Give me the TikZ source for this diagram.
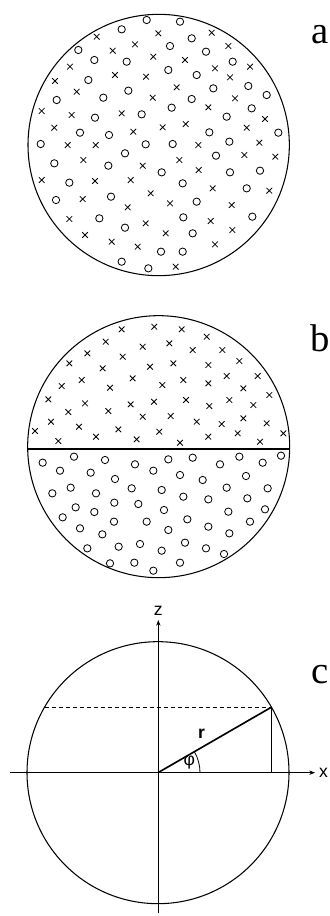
\documentclass[tikz,border=0pt]{standalone}
\usepackage{fontspec}
\setmainfont{Liberation Serif}
\newfontfamily\axfont{Liberation Sans}
\usetikzlibrary{arrows.meta,calc}

\begin{document}
\begin{tikzpicture}[x=0.1mm, y=-0.1mm,
  rim/.style={line width=0.9pt},
  ring/.style={line width=0.7pt},
  panel/.style={font=\fontsize{33}{33}\selectfont, anchor=base, inner sep=0pt},
  axlab/.style={font=\axfont\fontsize{15}{15}\selectfont, inner sep=0pt},
  axis/.style={line width=0.8pt, -{Stealth[length=1.7mm, width=1.3mm]}},
  cross/.pic={\draw[ring] (-8.5,-8.5) -- (8.5,8.5) (-8.5,8.5) -- (8.5,-8.5);}]
  \useasboundingbox (0,0) rectangle (990,2748);

  % panel a: mixed
  \draw[rim] (476,435) circle (39.2mm);
  \foreach \x/\y in {440/60, 540/65, 365/88, 575/115, 235/150, 510/138, 618/155,
      283/180, 380/185, 698/185, 265/240, 505/210, 590/225, 385/272, 640/265,
      745/258, 170/300, 310/293, 575/297, 800/285, 515/323, 755/325, 285/353,
      425/343, 680/350, 240/398, 327/405, 628/397, 835/398, 122/432, 375/460,
      437/433, 518/432, 688/425, 163/490, 325/497, 648/467, 485/517, 690/517,
      780/512, 208/548, 548/550, 740/565, 168/600, 333/590, 590/605, 298/655,
      375/683, 550/652, 757/650, 578/700, 483/755, 548/755, 365/785, 445/805}
    \draw[ring] (\x,\y) circle (1.1mm);
  \foreach \x/\y in {475/100, 635/98, 290/110, 338/152, 405/133, 685/138,
      210/200, 460/170, 555/180, 645/205, 750/200, 165/243, 345/225, 438/230,
      690/232, 230/275, 530/262, 458/293, 705/295, 125/333, 215/345, 625/322,
      365/340, 795/357, 163/383, 400/395, 488/382, 557/372, 740/383, 203/435,
      287/435, 595/435, 778/428, 250/480, 428/497, 538/480, 733/465, 826/470,
      125/540, 596/510, 285/543, 392/540, 638/565, 808/572, 248/597, 452/580,
      383/622, 510/610, 695/615, 208/657, 437/670, 632/663, 255/705, 497/700,
      697/690, 335/725, 413/740, 645/733, 527/800}
    \pic at (\x,\y) {cross};
  \node[panel] (la) at (960,130) {a};

  % panel b: separated
  \begin{scope}[shift={(0,900)}]
    \draw[rim] (476,440) circle (39.3mm);
    \coordinate (bl) at (83,447);
    \coordinate (br) at (869,447);
    \draw[rim] (bl) -- (br);
    \foreach \x/\y in {365/88, 463/80, 545/88, 620/110, 317/125, 428/140,
        508/130, 578/150, 667/150, 208/190, 262/160, 368/170, 450/200, 520/190,
        625/195, 718/183, 308/205, 245/240, 185/258, 398/235, 487/255, 550/240,
        625/250, 680/228, 773/228, 330/263, 730/265, 145/298, 255/310, 392/313,
        462/305, 558/300, 628/318, 688/300, 760/315, 808/285, 205/336, 325/333,
        428/350, 512/348, 590/365, 665/372, 730/355, 800/370, 153/365, 237/380,
        355/388, 478/395, 410/418, 288/410, 175/423, 105/393, 540/428, 625/410,
        713/400, 780/425, 850/400}
      \pic at (\x,\y) {cross};
    \foreach \x/\y in {128/488, 222/470, 315/480, 405/493, 505/478, 578/473,
        660/493, 718/470, 788/488, 843/467, 180/512, 272/518, 460/512, 540/525,
        608/540, 738/528, 345/537, 212/563, 157/580, 288/580, 395/565, 485/570,
        550/590, 625/598, 680/563, 742/595, 803/565, 227/622, 188/652, 283/636,
        343/608, 415/612, 492/630, 562/658, 685/635, 795/628, 240/685, 342/665,
        440/665, 505/690, 625/680, 688/700, 750/665, 307/703, 262/745, 356/740,
        420/732, 485/752, 555/728, 618/745, 672/762, 330/790, 403/788, 460/812,
        540/788}
      \draw[ring] (\x,\y) circle (1.1mm);
    \node[panel] (lb) at (960,155) {b};
  \end{scope}

  % panel c: coordinates
  \begin{scope}[shift={(0,1800)}]
    \coordinate (o) at (474,518);
    \draw[rim] (o) circle (39.3mm);
    \coordinate (xa) at (30,518);
    \coordinate (xb) at (945,518);
    \coordinate (za) at (475,940);
    \coordinate (zb) at (475,60);
    \draw[axis] (xa) -- (xb);
    \draw[axis] (za) -- (zb);
    \node[axlab, anchor=west] (xlab) at ([xshift=1.2mm]xb) {x};
    \node[axlab, anchor=south] (zlab) at ([yshift=1.3mm]zb) {z};
    \coordinate (p) at ($(o)+(30:39.3mm)$);
    \coordinate (q) at ($(o)+(150:39.3mm)$);
    \draw[line width=0.9pt, dash pattern=on 1.2mm off 0.9mm] (q) -- (p);
    \draw[line width=1.2pt] (p) -- (p |- o);
    \draw[line width=1.4pt] (o) -- (p);
    \draw[ring] ($(o)+(12.6mm,0)$) arc[start angle=0, end angle=30, radius=12.6mm];
    \node[axlab, font=\axfont\bfseries\fontsize{15}{15}\selectfont] (rlab) at (605,400) {r};
    \node[axlab] (philab) at (568,488) {φ};
    \node[panel] (lc) at (960,250) {c};
  \end{scope}
\end{tikzpicture}
\end{document}
